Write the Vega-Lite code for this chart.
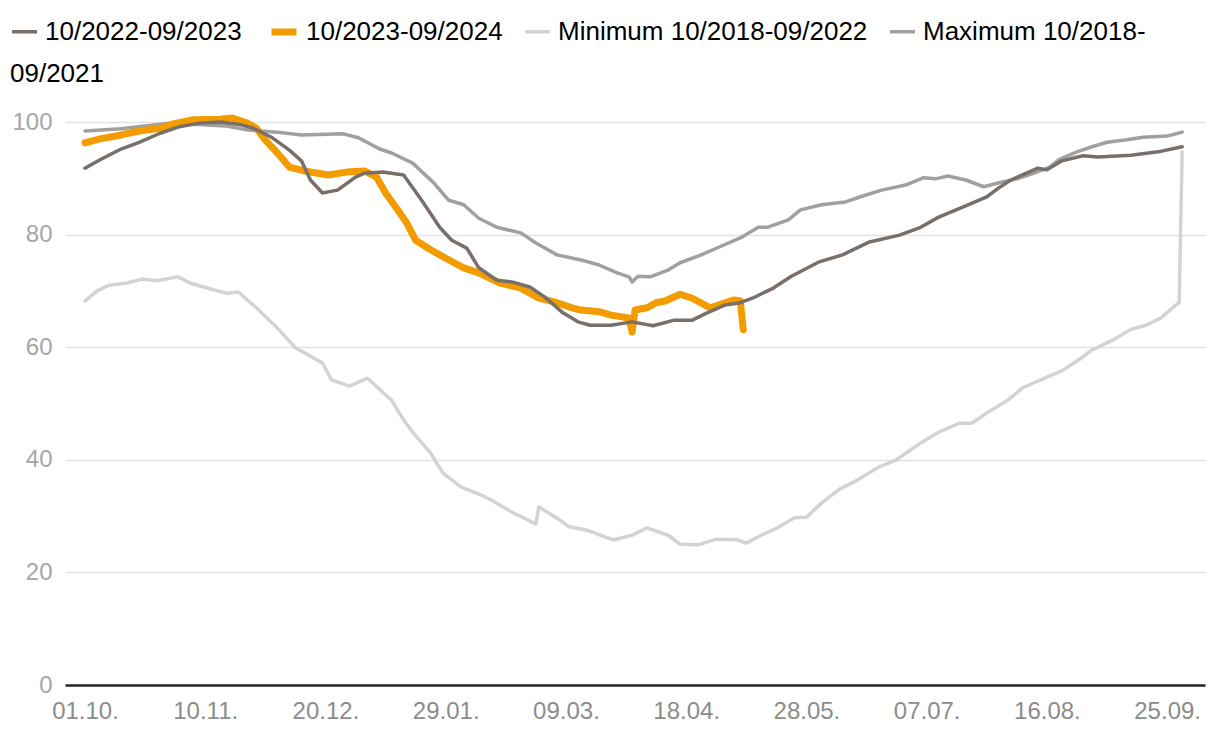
{
"$schema":"https://vega.github.io/schema/vega-lite/v6.json",
"width":1140,"height":563,
"autosize":{"type":"none"},
"padding":{"left":65,"top":122,"right":15,"bottom":53},
"background":"white",
"config":{"view":{"stroke":null},"font":"Liberation Sans"},
"datasets":{
"dark":[
{"day":0,"value":91.8},{"day":5,"value":93.3},{"day":12,"value":95.2},{"day":18,"value":96.4},{"day":25,"value":98.0},{"day":31,"value":99.1},{"day":38,"value":99.8},{"day":45,"value":100.0},{"day":52,"value":99.5},{"day":56,"value":98.9},{"day":62,"value":97.3},{"day":68,"value":95.0},{"day":72,"value":93.1},{"day":75,"value":89.7},{"day":79,"value":87.4},{"day":84,"value":87.9},{"day":90,"value":90.2},{"day":93,"value":90.9},{"day":99,"value":91.1},{"day":106,"value":90.6},{"day":112,"value":86.1},{"day":118,"value":81.3},{"day":122,"value":79.0},{"day":127,"value":77.6},{"day":131,"value":74.1},{"day":137,"value":71.9},{"day":142,"value":71.6},{"day":148,"value":70.7},{"day":153,"value":68.9},{"day":159,"value":66.1},{"day":164,"value":64.5},{"day":168,"value":63.9},{"day":175,"value":63.9},{"day":182,"value":64.5},{"day":189,"value":63.8},{"day":196,"value":64.8},{"day":202,"value":64.8},{"day":207,"value":66.1},{"day":213,"value":67.5},{"day":218,"value":67.9},{"day":222,"value":68.7},{"day":229,"value":70.5},{"day":235,"value":72.6},{"day":244,"value":75.1},{"day":252,"value":76.4},{"day":261,"value":78.7},{"day":271,"value":79.9},{"day":278,"value":81.3},{"day":284,"value":83.1},{"day":292,"value":84.9},{"day":300,"value":86.7},{"day":304,"value":88.3},{"day":308,"value":89.7},{"day":317,"value":91.8},{"day":320,"value":91.5},{"day":325,"value":93.1},{"day":332,"value":94.0},{"day":337,"value":93.8},{"day":348,"value":94.1},{"day":357,"value":94.7},{"day":365,"value":95.6}
],
"orange":[
{"day":0,"value":96.3},{"day":5,"value":97.0},{"day":12,"value":97.7},{"day":18,"value":98.4},{"day":25,"value":98.9},{"day":29,"value":99.6},{"day":36,"value":100.4},{"day":45,"value":100.5},{"day":49,"value":100.7},{"day":54,"value":99.8},{"day":57,"value":98.9},{"day":60,"value":96.8},{"day":64,"value":94.5},{"day":68,"value":92.0},{"day":73,"value":91.3},{"day":81,"value":90.6},{"day":87,"value":91.1},{"day":93,"value":91.3},{"day":97,"value":90.2},{"day":100,"value":87.4},{"day":104,"value":84.4},{"day":107,"value":82.1},{"day":110,"value":79.0},{"day":115,"value":77.3},{"day":120,"value":75.8},{"day":126,"value":74.1},{"day":131,"value":73.2},{"day":138,"value":71.4},{"day":145,"value":70.5},{"day":151,"value":68.7},{"day":157,"value":67.9},{"day":162,"value":67.0},{"day":165,"value":66.6},{"day":171,"value":66.3},{"day":175,"value":65.7},{"day":181,"value":65.2},{"day":182,"value":62.7},{"day":183,"value":66.6},{"day":187,"value":67.0},{"day":190,"value":67.9},{"day":193,"value":68.2},{"day":198,"value":69.4},{"day":202,"value":68.7},{"day":208,"value":67.0},{"day":213,"value":67.9},{"day":216,"value":68.4},{"day":218,"value":68.2},{"day":219,"value":63.1}
],
"min":[
{"day":0,"value":68.2},{"day":4,"value":70.0},{"day":8,"value":71.0},{"day":14,"value":71.4},{"day":19,"value":72.1},{"day":24,"value":71.8},{"day":31,"value":72.5},{"day":35,"value":71.4},{"day":42,"value":70.3},{"day":47,"value":69.6},{"day":51,"value":69.8},{"day":57,"value":67.0},{"day":64,"value":63.4},{"day":70,"value":59.9},{"day":79,"value":57.2},{"day":82,"value":54.2},{"day":88,"value":53.1},{"day":94,"value":54.5},{"day":99,"value":52.0},{"day":102,"value":50.6},{"day":104,"value":48.8},{"day":106,"value":47.1},{"day":109,"value":44.9},{"day":115,"value":41.2},{"day":119,"value":37.7},{"day":125,"value":35.2},{"day":132,"value":33.7},{"day":135,"value":32.9},{"day":142,"value":30.7},{"day":150,"value":28.6},{"day":151,"value":31.6},{"day":158,"value":29.3},{"day":161,"value":28.1},{"day":167,"value":27.5},{"day":174,"value":26.1},{"day":176,"value":25.8},{"day":182,"value":26.6},{"day":187,"value":27.9},{"day":194,"value":26.6},{"day":198,"value":25.0},{"day":204,"value":24.9},{"day":210,"value":25.9},{"day":217,"value":25.8},{"day":220,"value":25.2},{"day":225,"value":26.6},{"day":231,"value":28.1},{"day":236,"value":29.7},{"day":240,"value":29.8},{"day":245,"value":32.3},{"day":251,"value":34.8},{"day":257,"value":36.4},{"day":264,"value":38.7},{"day":270,"value":40.0},{"day":278,"value":43.0},{"day":284,"value":44.9},{"day":291,"value":46.5},{"day":295,"value":46.5},{"day":300,"value":48.3},{"day":307,"value":50.6},{"day":312,"value":52.8},{"day":320,"value":54.7},{"day":325,"value":55.8},{"day":331,"value":57.9},{"day":335,"value":59.5},{"day":342,"value":61.3},{"day":348,"value":63.2},{"day":353,"value":63.9},{"day":358,"value":65.2},{"day":362,"value":67.1},{"day":364,"value":67.9},{"day":365,"value":94.7}
],
"max":[
{"day":0,"value":98.4},{"day":12,"value":98.8},{"day":28,"value":99.8},{"day":47,"value":99.3},{"day":54,"value":98.6},{"day":64,"value":98.2},{"day":72,"value":97.7},{"day":86,"value":97.9},{"day":91,"value":97.2},{"day":98,"value":95.2},{"day":102,"value":94.5},{"day":109,"value":92.7},{"day":116,"value":89.2},{"day":121,"value":86.1},{"day":126,"value":85.3},{"day":131,"value":82.9},{"day":137,"value":81.3},{"day":145,"value":80.3},{"day":150,"value":78.5},{"day":157,"value":76.4},{"day":165,"value":75.5},{"day":171,"value":74.6},{"day":177,"value":73.2},{"day":181,"value":72.5},{"day":182,"value":71.6},{"day":184,"value":72.6},{"day":188,"value":72.5},{"day":194,"value":73.7},{"day":198,"value":75.0},{"day":205,"value":76.4},{"day":211,"value":77.8},{"day":218,"value":79.4},{"day":224,"value":81.3},{"day":227,"value":81.3},{"day":234,"value":82.6},{"day":238,"value":84.4},{"day":245,"value":85.3},{"day":253,"value":85.8},{"day":259,"value":86.9},{"day":265,"value":87.9},{"day":273,"value":88.8},{"day":279,"value":90.1},{"day":283,"value":89.9},{"day":287,"value":90.4},{"day":293,"value":89.7},{"day":299,"value":88.5},{"day":304,"value":89.2},{"day":310,"value":89.9},{"day":315,"value":90.8},{"day":321,"value":92.0},{"day":324,"value":93.3},{"day":330,"value":94.7},{"day":335,"value":95.6},{"day":340,"value":96.4},{"day":346,"value":96.8},{"day":352,"value":97.3},{"day":360,"value":97.5},{"day":365,"value":98.2}
]
},
"encoding":{
"x":{"field":"day","type":"quantitative","scale":{"domain":[-6.65,372.6],"nice":false,"zero":false},
"axis":{"values":[0,40,80,120,160,200,240,280,320,360],"labelExpr":"['01.10.','10.11.','20.12.','29.01.','09.03.','18.04.','28.05.','07.07.','16.08.','25.09.'][round(datum.value/40)]","title":null,"grid":false,"ticks":false,"domainColor":"#262626","domainWidth":2.5,"labelColor":"#8c8c8c","labelFontSize":24,"labelPadding":14,"labelFlush":false,"labelOverlap":false}},
"y":{"field":"value","type":"quantitative","scale":{"domain":[0,100],"nice":false},
"axis":{"values":[0,20,40,60,80,100],"title":null,"domain":false,"ticks":false,"gridColor":"#e3e3e3","gridWidth":1.5,"labelColor":"#a6a6a6","labelFontSize":24,"labelPadding":13}},
"color":{"field":"series","type":"nominal","scale":{"domain":["10/2022-09/2023","10/2023-09/2024","Minimum 10/2018-09/2022","Maximum 10/2018-09/2021"],"range":["#786e6a","#f39c00","#d3d3d3","#a0a0a0"]},
"legend":{"orient":"none","legendX":-55,"legendY":-106,"padding":0,"direction":"horizontal","title":"09/2021","titleOrient":"bottom","titleAnchor":"start","titleFontSize":26,"titleFontWeight":"normal","titleColor":"#000000","titlePadding":15,"symbolType":"stroke","symbolSize":625,"labelFontSize":26,"labelColor":"#000000","labelOffset":6,"columnPadding":15,"labelLimit":600,"labelExpr":"datum.label == 'Maximum 10/2018-09/2021' ? 'Maximum 10/2018-' : datum.label"}},
"strokeWidth":{"field":"series","type":"nominal","scale":{"type":"ordinal","domain":["10/2022-09/2023","10/2023-09/2024","Minimum 10/2018-09/2022","Maximum 10/2018-09/2021"],"range":[3.5,7,3.5,3.5]},
"legend":{"orient":"none","legendX":-55,"legendY":-106,"padding":0,"direction":"horizontal","title":"09/2021","titleOrient":"bottom","titleAnchor":"start","titleFontSize":26,"titleFontWeight":"normal","titleColor":"#000000","titlePadding":15,"symbolType":"stroke","symbolSize":625,"labelFontSize":26,"labelColor":"#000000","labelOffset":6,"columnPadding":15,"labelLimit":600,"labelExpr":"datum.label == 'Maximum 10/2018-09/2021' ? 'Maximum 10/2018-' : datum.label"}}
},
"layer":[
{"data":{"name":"min"},"transform":[{"calculate":"'Minimum 10/2018-09/2022'","as":"series"}],"mark":{"type":"line","strokeCap":"round","strokeJoin":"round"}},
{"data":{"name":"max"},"transform":[{"calculate":"'Maximum 10/2018-09/2021'","as":"series"}],"mark":{"type":"line","strokeCap":"round","strokeJoin":"round"}},
{"data":{"name":"orange"},"transform":[{"calculate":"'10/2023-09/2024'","as":"series"}],"mark":{"type":"line","strokeCap":"round","strokeJoin":"round"}},
{"data":{"name":"dark"},"transform":[{"calculate":"'10/2022-09/2023'","as":"series"}],"mark":{"type":"line","strokeCap":"round","strokeJoin":"round"}}
]
}
